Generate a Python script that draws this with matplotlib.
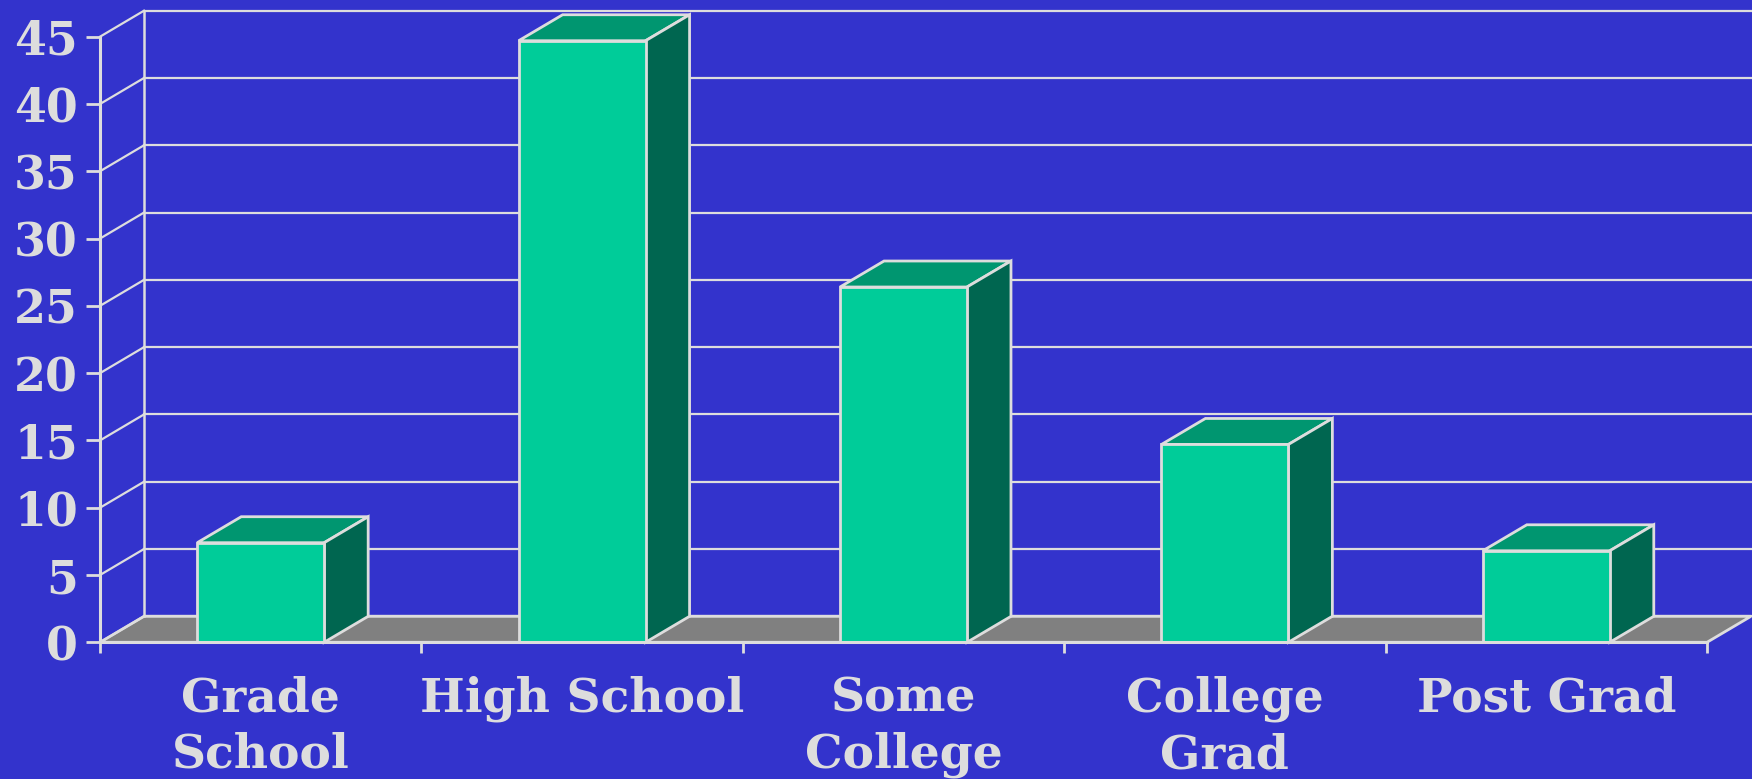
import matplotlib
matplotlib.use("Agg")
import matplotlib.pyplot as plt
from matplotlib.patches import Polygon, Rectangle

categories = ["Grade\nSchool", "High School", "Some\nCollege", "College\nGrad", "Post Grad"]
values = [7.4, 44.7, 26.4, 14.7, 6.8]
yticks = [0, 5, 10, 15, 20, 25, 30, 35, 40, 45]

BG = "#3333CC"
FRONT = "#00CC99"
TOP = "#009670"
SIDE = "#006650"
FLOOR = "#808080"
LINE = "#DDDDDD"

W, H = 1752, 779
fig = plt.figure(figsize=(W / 100, H / 100), dpi=100)
fig.patch.set_facecolor(BG)

x0px, x1px = 100, 1707
y0px, y45px = 642.3, 36.7
ax = fig.add_axes([x0px / W, (H - y0px) / H, (x1px - x0px) / W, (y0px - y45px) / H])
ax.set_facecolor("none")
n = len(categories)
ax.set_xlim(0, n)
ax.set_ylim(0, 45)

DX = 44 / ((x1px - x0px) / n)
DY = 26 / ((y0px - y45px) / 45)
BW = 0.395

# floor
ax.add_patch(Polygon([(0, 0), (n, 0), (n + DX, DY), (DX, DY)], closed=True,
                     facecolor=FLOOR, edgecolor=LINE, lw=2, zorder=1, clip_on=False))

# back wall grid
for v in yticks:
    ax.plot([DX, n + DX], [v + DY, v + DY], color=LINE, lw=1.6, zorder=2, clip_on=False)
    ax.plot([0, DX], [v, v + DY], color=LINE, lw=1.6, zorder=2, clip_on=False)
ax.plot([DX, DX], [DY, yticks[-1] + DY], color=LINE, lw=1.8, zorder=2, clip_on=False)

# bars
for i, v in enumerate(values):
    xa = i + 0.5 - BW / 2
    xb = i + 0.5 + BW / 2
    ax.add_patch(Polygon([(xa, v), (xb, v), (xb + DX, v + DY), (xa + DX, v + DY)], closed=True,
                         facecolor=TOP, edgecolor=LINE, lw=2, zorder=3, clip_on=False))
    ax.add_patch(Polygon([(xb, 0), (xb + DX, DY), (xb + DX, v + DY), (xb, v)], closed=True,
                         facecolor=SIDE, edgecolor=LINE, lw=2, zorder=3, clip_on=False))
    ax.add_patch(Rectangle((xa, 0), BW, v, facecolor=FRONT, edgecolor=LINE, lw=2,
                           zorder=4, clip_on=False))

for s in ["top", "right"]:
    ax.spines[s].set_visible(False)
for s in ["left", "bottom"]:
    ax.spines[s].set_color(LINE)
    ax.spines[s].set_linewidth(2.2)
    ax.spines[s].set_zorder(5)

yfont = dict(family="DejaVu Serif", weight="bold", size=33, color=LINE)
xfont = dict(family="DejaVu Serif", weight="bold", size=34, color=LINE)
ax.set_yticks(yticks)
ax.set_yticklabels([str(t) for t in yticks], fontdict=yfont)
ax.tick_params(axis="y", direction="out", length=10, width=2, color=LINE, pad=6)

ax.set_xticks(range(n + 1))
ax.set_xticklabels([])
ax.tick_params(axis="x", which="major", direction="out", length=8, width=2, color=LINE)
ax.set_xticks([i + 0.5 for i in range(n)], minor=True)
ax.set_xticklabels(categories, minor=True, fontdict=xfont, linespacing=1.28)
ax.tick_params(axis="x", which="minor", length=0, pad=24)

fig.savefig("out.png", dpi=100, facecolor=BG)
